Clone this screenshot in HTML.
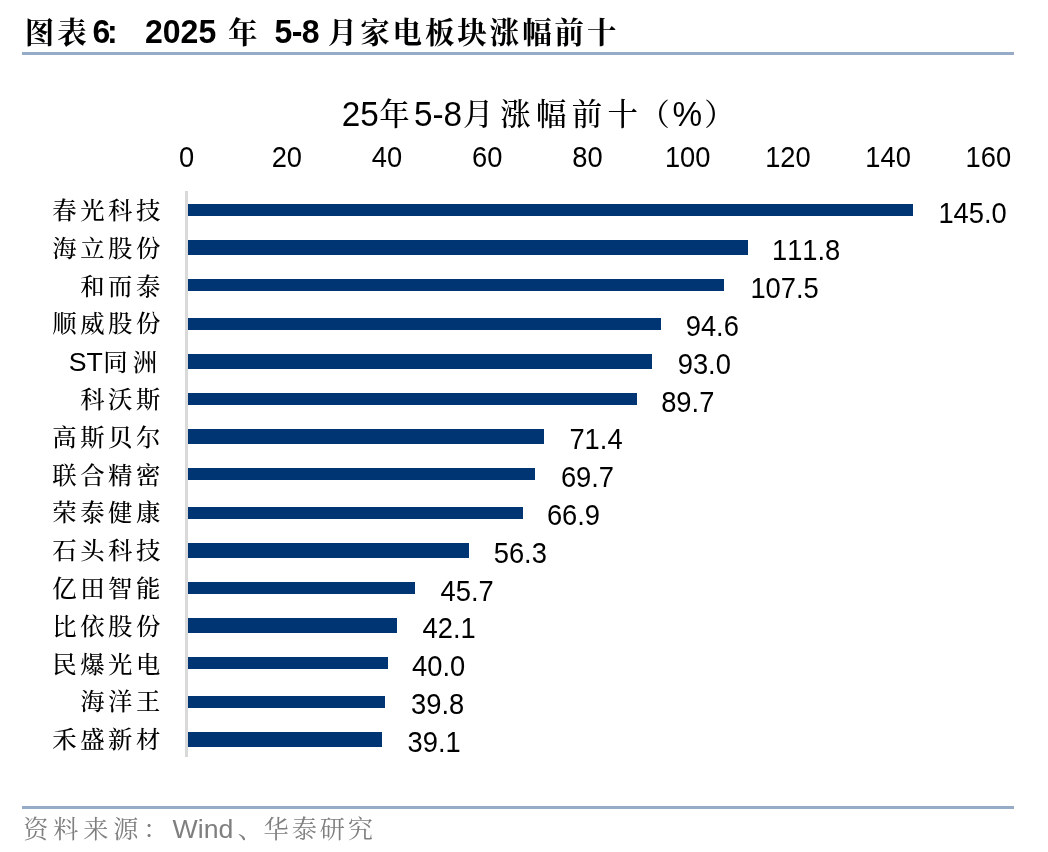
<!DOCTYPE html>
<html lang="zh-CN">
<head>
<meta charset="utf-8">
<title>图表6: 2025年5-8月家电板块涨幅前十</title>
<style>
html,body{margin:0;padding:0;background:#fff;}
body{width:1048px;height:852px;position:relative;overflow:hidden;font-family:"Liberation Sans", "Noto Serif CJK SC", sans-serif;color:#000;}
.t{position:absolute;line-height:1;white-space:nowrap;font-kerning:none;font-variant-ligatures:none;font-family:"Liberation Sans", "Noto Serif CJK SC", sans-serif;}
.t span{line-height:1;}
.b{font-weight:700;}
.sy{transform:scaleY(1.06);transform-origin:0 84.65%;}
.sh{transform:scaleY(1.05);transform-origin:0 84.65%;}
.sc{transform:scaleY(1.03);transform-origin:0 84.65%;}
.cat,.k{font-weight:500;}
.src{color:#7f7f7f;}
.rule{position:absolute;left:22px;width:991.5px;height:3px;background:#95abc6;}
.axis{position:absolute;left:185px;top:191px;width:3px;height:566px;background:#d9d9d9;}
.bar{position:absolute;left:188px;background:#003574;}
</style>
</head>
<body>
<div class="hdr">
<div class="t b" style="top:17.63px;font-size:29.5px;letter-spacing:3.1px;left:24.75px;">图表</div>
<div class="t b sh" style="top:16.01px;font-size:32px;letter-spacing:-3.2px;left:92.50px;">6:</div>
<div class="t b sh" style="top:16.01px;font-size:32px;left:145.00px;">2025</div>
<div class="t b" style="top:17.63px;font-size:29.5px;left:228.05px;">年</div>
<div class="t b sh" style="top:16.01px;font-size:32px;letter-spacing:-0.6px;left:274.50px;">5-8</div>
<div class="t b" style="top:17.63px;font-size:29.5px;letter-spacing:2.9px;left:327.75px;">月家电板块涨幅前十</div>
</div>
<div class="rule" style="top:52px"></div>
<div class="chart">
<div class="t sc" style="top:97.71px;font-size:33.3px;left:341.80px;">25</div>
<div class="t k" style="top:99.38px;font-size:30.5px;left:379.35px;">年</div>
<div class="t sc" style="top:97.71px;font-size:33.3px;left:414.00px;">5-8</div>
<div class="t k" style="top:99.38px;font-size:30.5px;left:462.95px;">月</div>
<div class="t k" style="top:99.38px;font-size:30.5px;letter-spacing:5.3px;left:500.15px;">涨幅前十</div>
<div class="t k" style="top:99.38px;font-size:30.5px;left:639.35px;">（</div>
<div class="t sc" style="top:97.71px;font-size:33.3px;left:672.60px;">%</div>
<div class="t k" style="top:99.38px;font-size:30.5px;left:704.35px;">）</div>
<div class="t ax sy" style="top:144.09px;font-size:27.3px;left:36.60px;width:300px;text-align:center;">0</div>
<div class="t ax sy" style="top:144.09px;font-size:27.3px;left:136.82px;width:300px;text-align:center;">20</div>
<div class="t ax sy" style="top:144.09px;font-size:27.3px;left:237.04px;width:300px;text-align:center;">40</div>
<div class="t ax sy" style="top:144.09px;font-size:27.3px;left:337.26px;width:300px;text-align:center;">60</div>
<div class="t ax sy" style="top:144.09px;font-size:27.3px;left:437.48px;width:300px;text-align:center;">80</div>
<div class="t ax sy" style="top:144.09px;font-size:27.3px;left:537.70px;width:300px;text-align:center;">100</div>
<div class="t ax sy" style="top:144.09px;font-size:27.3px;left:637.92px;width:300px;text-align:center;">120</div>
<div class="t ax sy" style="top:144.09px;font-size:27.3px;left:738.14px;width:300px;text-align:center;">140</div>
<div class="t ax sy" style="top:144.09px;font-size:27.3px;left:838.36px;width:300px;text-align:center;">160</div>
<div class="axis"></div>
<div class="bar" style="top:204px;height:12px;width:725px"></div>
<div class="t cat" style="top:198.90px;font-size:24.4px;letter-spacing:3.5px;left:52.30px;">春光科技</div>
<div class="t val sy" style="top:199.64px;font-size:27.3px;left:938.43px;">145.0</div>
<div class="bar" style="top:240px;height:15px;width:560px"></div>
<div class="t cat" style="top:236.70px;font-size:24.4px;letter-spacing:3.5px;left:52.30px;">海立股份</div>
<div class="t val sy" style="top:237.44px;font-size:27.3px;left:771.99px;">111.8</div>
<div class="bar" style="top:279px;height:12px;width:536px"></div>
<div class="t cat" style="top:274.50px;font-size:24.4px;letter-spacing:3.5px;left:80.20px;">和而泰</div>
<div class="t val sy" style="top:275.24px;font-size:27.3px;left:750.43px;">107.5</div>
<div class="bar" style="top:318px;height:12px;width:473px"></div>
<div class="t cat" style="top:312.30px;font-size:24.4px;letter-spacing:3.5px;left:52.30px;">顺威股份</div>
<div class="t val sy" style="top:313.04px;font-size:27.3px;left:685.76px;">94.6</div>
<div class="bar" style="top:354px;height:15px;width:464px"></div>
<div class="t cat" style="top:348.67px;font-size:26.67px;left:68.80px;">ST<span style="font-size:24.4px;letter-spacing:5.3px;margin-left:0.3px">同洲</span></div>
<div class="t val sy" style="top:350.84px;font-size:27.3px;left:677.74px;">93.0</div>
<div class="bar" style="top:393px;height:12px;width:449px"></div>
<div class="t cat" style="top:387.90px;font-size:24.4px;letter-spacing:3.5px;left:80.20px;">科沃斯</div>
<div class="t val sy" style="top:388.64px;font-size:27.3px;left:661.19px;">89.7</div>
<div class="bar" style="top:429px;height:15px;width:356px"></div>
<div class="t cat" style="top:425.70px;font-size:24.4px;letter-spacing:3.5px;left:52.30px;">高斯贝尔</div>
<div class="t val sy" style="top:426.44px;font-size:27.3px;left:569.45px;">71.4</div>
<div class="bar" style="top:468px;height:12px;width:347px"></div>
<div class="t cat" style="top:463.50px;font-size:24.4px;letter-spacing:3.5px;left:52.30px;">联合精密</div>
<div class="t val sy" style="top:464.24px;font-size:27.3px;left:560.93px;">69.7</div>
<div class="bar" style="top:507px;height:12px;width:335px"></div>
<div class="t cat" style="top:501.30px;font-size:24.4px;letter-spacing:3.5px;left:52.30px;">荣泰健康</div>
<div class="t val sy" style="top:502.04px;font-size:27.3px;left:546.89px;">66.9</div>
<div class="bar" style="top:543px;height:15px;width:281px"></div>
<div class="t cat" style="top:539.10px;font-size:24.4px;letter-spacing:3.5px;left:52.30px;">石头科技</div>
<div class="t val sy" style="top:539.84px;font-size:27.3px;left:493.75px;">56.3</div>
<div class="bar" style="top:582px;height:12px;width:227px"></div>
<div class="t cat" style="top:576.90px;font-size:24.4px;letter-spacing:3.5px;left:52.30px;">亿田智能</div>
<div class="t val sy" style="top:577.64px;font-size:27.3px;left:440.61px;">45.7</div>
<div class="bar" style="top:618px;height:15px;width:209px"></div>
<div class="t cat" style="top:614.70px;font-size:24.4px;letter-spacing:3.5px;left:52.30px;">比依股份</div>
<div class="t val sy" style="top:615.44px;font-size:27.3px;left:422.56px;">42.1</div>
<div class="bar" style="top:657px;height:12px;width:200px"></div>
<div class="t cat" style="top:652.50px;font-size:24.4px;letter-spacing:3.5px;left:52.30px;">民爆光电</div>
<div class="t val sy" style="top:653.24px;font-size:27.3px;left:412.03px;">40.0</div>
<div class="bar" style="top:696px;height:12px;width:197px"></div>
<div class="t cat" style="top:690.30px;font-size:24.4px;letter-spacing:3.5px;left:80.20px;">海洋王</div>
<div class="t val sy" style="top:691.04px;font-size:27.3px;left:411.03px;">39.8</div>
<div class="bar" style="top:732px;height:15px;width:194px"></div>
<div class="t cat" style="top:728.10px;font-size:24.4px;letter-spacing:3.5px;left:52.30px;">禾盛新材</div>
<div class="t val sy" style="top:728.84px;font-size:27.3px;left:407.52px;">39.1</div>
</div>
<div class="rule" style="top:806px"></div>
<div class="foot">
<div class="t src" style="top:816.97px;font-size:25.2px;letter-spacing:4.8px;left:23.20px;">资料来源：</div>
<div class="t src" style="top:815.92px;font-size:26.67px;left:172.60px;">Wind</div>
<div class="t src" style="top:816.97px;font-size:25.2px;left:237.80px;">、</div>
<div class="t src" style="top:816.97px;font-size:25.2px;letter-spacing:2.9px;left:263.60px;">华泰研究</div>
</div>
</body>
</html>
